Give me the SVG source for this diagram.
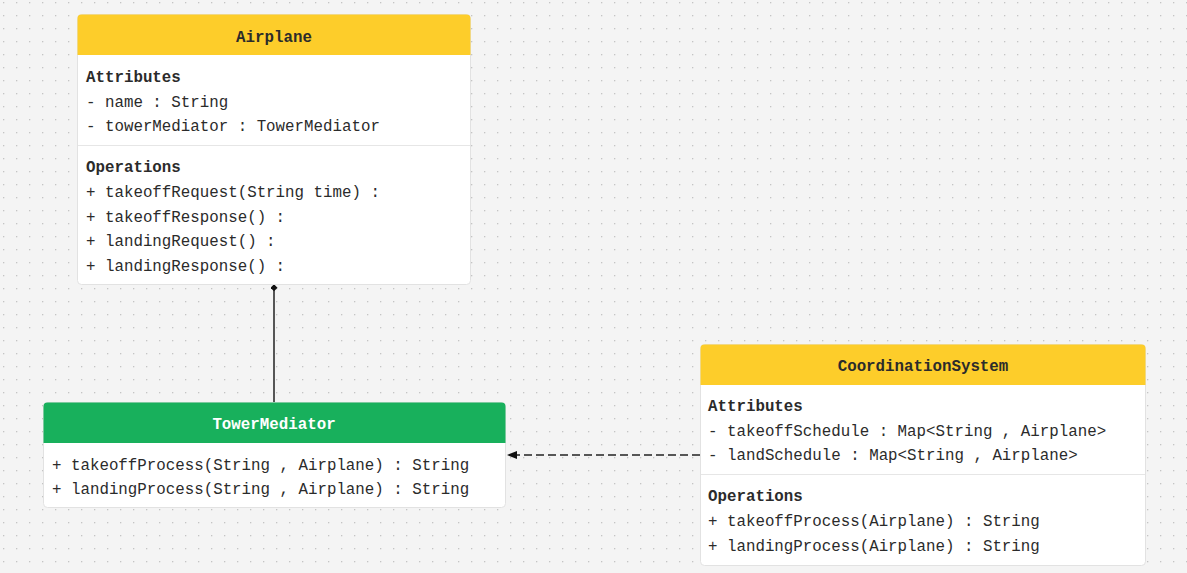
<svg xmlns="http://www.w3.org/2000/svg" width="1187" height="573" viewBox="0 0 1187 573">
<defs>
<pattern id="dots" x="3" y="2" width="13" height="13" patternUnits="userSpaceOnUse">
<rect x="0" y="0" width="1.3" height="1.3" fill="#c4c4c4"/>
</pattern>
<marker id="diamond" viewBox="0 0 10 10" refX="1" refY="5" markerWidth="10" markerHeight="7" markerUnits="userSpaceOnUse" orient="auto">
<path d="M0,5 L5,0 L10,5 L5,10 Z" fill="#111"/>
</marker>
<marker id="arrow" viewBox="0 0 10 10" refX="9" refY="5" markerWidth="7" markerHeight="7" orient="auto">
<path d="M0,1 L10,5 L0,9 Z" fill="#111"/>
</marker>
</defs>
<style>
.box{fill:#fff;stroke:#e2e2e2;stroke-width:1}
.t{font-family:"Liberation Mono","DejaVu Sans Mono",monospace;font-size:15.8px;fill:#2b2b2b}
.b{font-weight:bold}
.c{text-anchor:middle}
.div{stroke:#e6e6e6;stroke-width:1}
.conn{stroke:#222;stroke-width:1.5;fill:none}
</style>
<rect width="1187" height="573" fill="#f4f4f4"/>
<rect width="1187" height="573" fill="url(#dots)"/>

<g id="connectors">
<path class="conn" d="M274,285 L274,402" marker-start="url(#diamond)"/>
<path class="conn" d="M700,455 L508,455" stroke-dasharray="8,4" marker-end="url(#arrow)"/>
</g>

<g id="Airplane">
<rect class="box" x="77.5" y="14.5" width="393" height="270" rx="4"/>
<path d="M77.5,55 V18.5 a4,4 0 0 1 4,-4 H466.5 a4,4 0 0 1 4,4 V55 Z" fill="#fdcd2a"/>
<text class="t b c" x="274" y="41.5">Airplane</text>
<text class="t b" x="86" y="82">Attributes</text>
<text class="t" x="86" y="106.5">- name : String</text>
<text class="t" x="86" y="131">- towerMediator : TowerMediator</text>
<line class="div" x1="78" y1="145.5" x2="470" y2="145.5"/>
<text class="t b" x="86" y="172">Operations</text>
<text class="t" x="86" y="197">+ takeoffRequest(String time) :</text>
<text class="t" x="86" y="221.5">+ takeoffResponse() :</text>
<text class="t" x="86" y="246">+ landingRequest() :</text>
<text class="t" x="86" y="271">+ landingResponse() :</text>
</g>

<g id="TowerMediator">
<rect class="box" x="43.5" y="402.5" width="462" height="105" rx="4"/>
<path d="M43.5,443 V406.5 a4,4 0 0 1 4,-4 H501.5 a4,4 0 0 1 4,4 V443 Z" fill="#18b05c"/>
<text class="t b c" x="274" y="428.5" style="fill:#fff">TowerMediator</text>
<text class="t" x="52" y="469.5">+ takeoffProcess(String , Airplane) : String</text>
<text class="t" x="52" y="494">+ landingProcess(String , Airplane) : String</text>
</g>

<g id="CoordinationSystem">
<rect class="box" x="700.5" y="344.5" width="445" height="221" rx="4"/>
<path d="M700.5,385 V348.5 a4,4 0 0 1 4,-4 H1141.5 a4,4 0 0 1 4,4 V385 Z" fill="#fdcd2a"/>
<text class="t b c" x="923" y="370.5">CoordinationSystem</text>
<text class="t b" x="708" y="411">Attributes</text>
<text class="t" x="708" y="436">- takeoffSchedule : Map&lt;String , Airplane&gt;</text>
<text class="t" x="708" y="460">- landSchedule : Map&lt;String , Airplane&gt;</text>
<line class="div" x1="701" y1="474.5" x2="1145" y2="474.5"/>
<text class="t b" x="708" y="501">Operations</text>
<text class="t" x="708" y="526">+ takeoffProcess(Airplane) : String</text>
<text class="t" x="708" y="551">+ landingProcess(Airplane) : String</text>
</g>
</svg>
